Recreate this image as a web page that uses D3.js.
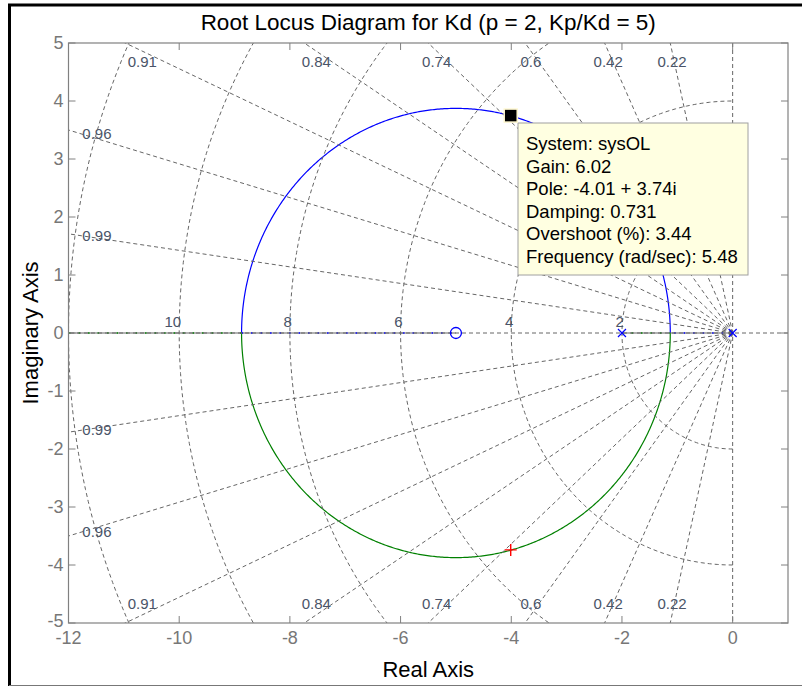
<!DOCTYPE html>
<html><head><meta charset="utf-8">
<script src="https://cdn.jsdelivr.net/npm/d3@7"></script>
<style>
body{margin:0;background:#fff}
svg{display:block}
text{font-family:"Liberation Sans",Arial,Helvetica,sans-serif}
</style>
</head><body>
<svg id="c" width="802" height="687"></svg>
<script>
// ---------- data ----------
const xTicks = [-12, -10, -8, -6, -4, -2, 0];
const yTicks = [-5, -4, -3, -2, -1, 0, 1, 2, 3, 4, 5];
const olPoles = [0, -2];          // open-loop poles  s(s+2)
const olZeros = [-5];             // open-loop zero   (s+5)
const dampingValues = [0.22, 0.42, 0.6, 0.74, 0.84, 0.91, 0.96, 0.99];
const freqValues = [2, 4, 6, 8, 10, 12];
const freqLabels = [2, 4, 6, 8, 10];
const tipPole = [-4.01, 3.74];
const tipLines = ["System: sysOL", "Gain: 6.02", "Pole: -4.01 + 3.74i",
  "Damping: 0.731", "Overshoot (%): 3.44", "Frequency (rad/sec): 5.48"];
const titleText = "Root Locus Diagram for Kd (p = 2, Kp/Kd = 5)";

// ---------- layout ----------
const svg = d3.select("#c");
const X0 = 68.5, X1 = 788, Y0 = 43, Y1 = 623;
const x = d3.scaleLinear().domain([-12, 1]).range([X0, X1]);
const y = d3.scaleLinear().domain([-5, 5]).range([Y1, Y0]);
const gridCol = "#666", gridDash = "4,3";
const blue = "#0000ff", green = "#008000";

// outer frame
svg.append("line").attr("x1", 8).attr("x2", 802).attr("y1", 5).attr("y2", 5).attr("stroke", "#000").attr("stroke-width", 3);
svg.append("line").attr("x1", 9.5).attr("x2", 9.5).attr("y1", 4).attr("y2", 686).attr("stroke", "#000").attr("stroke-width", 3);
svg.append("line").attr("x1", 9).attr("x2", 802).attr("y1", 685.5).attr("y2", 685.5).attr("stroke", "#777").attr("stroke-width", 1);

svg.append("defs").append("clipPath").attr("id", "clip")
  .append("rect").attr("x", X0).attr("y", Y0).attr("width", X1 - X0).attr("height", Y1 - Y0);
const plot = svg.append("g").attr("clip-path", "url(#clip)");

// ---------- root locus computation (s(s+2) + K(s+5) = 0) ----------
const den = [1, -(olPoles[0] + olPoles[1]), olPoles[0] * olPoles[1]]; // [1, p1, p0]
const num = [1, -olZeros[0]];                                       // [n1, n0]
function roots(K) {
  const b = den[1] + K * num[0], c = den[2] + K * num[1];
  const D = b * b - 4 * c;
  if (D >= 0) return {re: [(-b + Math.sqrt(D)) / 2, (-b - Math.sqrt(D)) / 2], im: [0, 0]};
  return {re: [-b / 2, -b / 2], im: [Math.sqrt(-D) / 2, -Math.sqrt(-D) / 2]};
}
// breakaway gains: D(K)=0
const qa = num[0] * num[0], qb = 2 * den[1] * num[0] - 4 * num[1], qc = den[1] * den[1] - 4 * den[2];
const Kb1 = (-qb - Math.sqrt(qb * qb - 4 * qa * qc)) / (2 * qa);
const Kb2 = (-qb + Math.sqrt(qb * qb - 4 * qa * qc)) / (2 * qa);
const sw = d3.range(0, 401).map(i => Kb1 + (Kb2 - Kb1) * (1 - Math.cos(Math.PI * i / 400)) / 2);
const arcPts = sw.map(K => roots(K));
const upper = arcPts.map(r => [r.re[0], Math.abs(r.im[0])]);
const lower = arcPts.map(r => [r.re[1], -Math.abs(r.im[1])]);
const bA = roots(Kb1).re[0], bB = roots(Kb2).re[0];

const line = d3.line().x(d => x(d[0])).y(d => y(d[1]));
plot.append("path").attr("d", line(upper)).attr("fill", "none").attr("stroke", blue).attr("stroke-width", 1.2);
plot.append("path").attr("d", line(lower)).attr("fill", "none").attr("stroke", green).attr("stroke-width", 1.2);

// real-axis branches
const realSegs = [
  {a: olPoles[0], b: bA, c: blue},
  {a: olPoles[1], b: bA, c: green},
  {a: bB, b: olZeros[0], c: blue},
  {a: bB, b: -20, c: green}
];
realSegs.forEach(s => {
  plot.append("line").attr("x1", x(s.a)).attr("x2", x(s.b)).attr("y1", y(0)).attr("y2", y(0))
    .attr("stroke", "#666").attr("stroke-width", 1.2);
  plot.append("line").attr("x1", x(s.a)).attr("x2", x(s.b)).attr("y1", y(0)).attr("y2", y(0))
    .attr("stroke", s.c).attr("stroke-width", 1.6).attr("stroke-dasharray", "1.5,8");
});

// ---------- datatip box (under grid) ----------
const tipX = 518, tipY = 123, tipW = 230, tipH = 152;
svg.append("rect").attr("x", tipX).attr("y", tipY).attr("width", tipW).attr("height", tipH)
  .attr("fill", "#ffffe1").attr("stroke", "#a0a0a0").attr("stroke-width", 1);

// ---------- s-grid ----------
const grid = plot.append("g").attr("fill", "none").attr("stroke", gridCol).attr("stroke-width", 1).attr("stroke-dasharray", gridDash);
grid.append("line").attr("x1", x(1)).attr("x2", x(-12)).attr("y1", y(0)).attr("y2", y(0));
grid.append("line").attr("x1", x(0)).attr("x2", x(0)).attr("y1", y(5)).attr("y2", y(-5));
dampingValues.forEach(z => {
  const w = Math.sqrt(1 - z * z), R = 30;
  [1, -1].forEach(sg => grid.append("line").attr("x1", x(0)).attr("y1", y(0))
    .attr("x2", x(-z * R)).attr("y2", y(sg * w * R)));
});
freqValues.forEach(wn => {
  const pts = d3.range(-90, 90.5, 1).map(t => [-wn * Math.cos(t * Math.PI / 180), wn * Math.sin(t * Math.PI / 180)]);
  grid.append("path").attr("d", line(pts));
});

// grid labels
const lblCol = "#4a5468";
const gl = svg.append("g").attr("font-size", 15).attr("fill", lblCol);
dampingValues.forEach(z => {
  const w = Math.sqrt(1 - z * z);
  if (5 * z / w <= 12) {
    [4.67, -4.67].forEach(yy => gl.append("text").attr("x", x(-4.86 * z / w)).attr("y", y(yy))
      .attr("dy", "0.35em").attr("text-anchor", "middle").text(String(z)));
  } else {
    [1, -1].forEach(sg => gl.append("text").attr("x", x(-11.75)).attr("y", y(sg * 11.75 * w / z))
      .attr("dy", "0.35em").attr("text-anchor", "start").text(String(z)));
  }
});
freqLabels.forEach(wn => gl.append("text").attr("x", x(-wn) + 2).attr("y", y(0) - 6)
  .attr("text-anchor", "end").text(String(wn)));

// ---------- markers ----------
const mk = svg.append("g").attr("fill", "none");
olPoles.forEach(p => {
  const cx = x(p), cy = y(0), s = 4;
  mk.append("path").attr("d", `M${cx - s},${cy - s}L${cx + s},${cy + s}M${cx - s},${cy + s}L${cx + s},${cy - s}`)
    .attr("stroke", blue).attr("stroke-width", 1.2);
});
olZeros.forEach(zz => mk.append("circle").attr("cx", x(zz)).attr("cy", y(0)).attr("r", 5.5)
  .attr("stroke", blue).attr("stroke-width", 1.3));
{
  const cx = x(tipPole[0]), cy = y(-tipPole[1]), s = 6;
  mk.append("path").attr("d", `M${cx - s},${cy}L${cx + s},${cy}M${cx},${cy - s}L${cx},${cy + s}`)
    .attr("stroke", "#ff0000").attr("stroke-width", 1.4);
}
svg.append("rect").attr("x", x(tipPole[0]) - 6.5).attr("y", y(tipPole[1]) - 7).attr("width", 13).attr("height", 13)
  .attr("fill", "#000").attr("stroke", "#fff8d0").attr("stroke-width", 1.5);

svg.append("g").attr("font-size", 18.5).attr("fill", "#000")
  .selectAll("text").data(tipLines).join("text")
  .attr("x", tipX + 8).attr("y", (d, i) => 150 + i * 22.6).text(d => d);

// ---------- axes ----------
const axCol = "#808080";
svg.append("rect").attr("x", X0).attr("y", Y0).attr("width", X1 - X0).attr("height", Y1 - Y0)
  .attr("fill", "none").attr("stroke", axCol).attr("stroke-width", 1.2);
const tk = svg.append("g").attr("stroke", axCol).attr("stroke-width", 1);
xTicks.forEach(t => {
  tk.append("line").attr("x1", x(t)).attr("x2", x(t)).attr("y1", Y1).attr("y2", Y1 - 7);
  tk.append("line").attr("x1", x(t)).attr("x2", x(t)).attr("y1", Y0).attr("y2", Y0 + 7);
});
yTicks.forEach(t => {
  tk.append("line").attr("x1", X0).attr("x2", X0 + 7).attr("y1", y(t)).attr("y2", y(t));
  tk.append("line").attr("x1", X1).attr("x2", X1 - 7).attr("y1", y(t)).attr("y2", y(t));
});
const tl = svg.append("g").attr("font-size", 18).attr("fill", "#777");
xTicks.forEach(t => tl.append("text").attr("x", x(t)).attr("y", Y1 + 21).attr("text-anchor", "middle").text(String(t)));
yTicks.forEach(t => tl.append("text").attr("x", X0 - 5).attr("y", y(t) - (t === -5 ? 2 : 0)).attr("dy", "0.35em").attr("text-anchor", "end").text(String(t)));

svg.append("text").attr("x", (X0 + X1) / 2).attr("y", 30).attr("text-anchor", "middle")
  .attr("font-size", 22.5).attr("fill", "#000").text(titleText);
svg.append("text").attr("x", (X0 + X1) / 2).attr("y", 677).attr("text-anchor", "middle")
  .attr("font-size", 22).attr("fill", "#000").text("Real Axis");
svg.append("text").attr("transform", `translate(38,${(Y0 + Y1) / 2}) rotate(-90)`).attr("text-anchor", "middle")
  .attr("font-size", 22).attr("fill", "#000").text("Imaginary Axis");
</script>
</body></html>
